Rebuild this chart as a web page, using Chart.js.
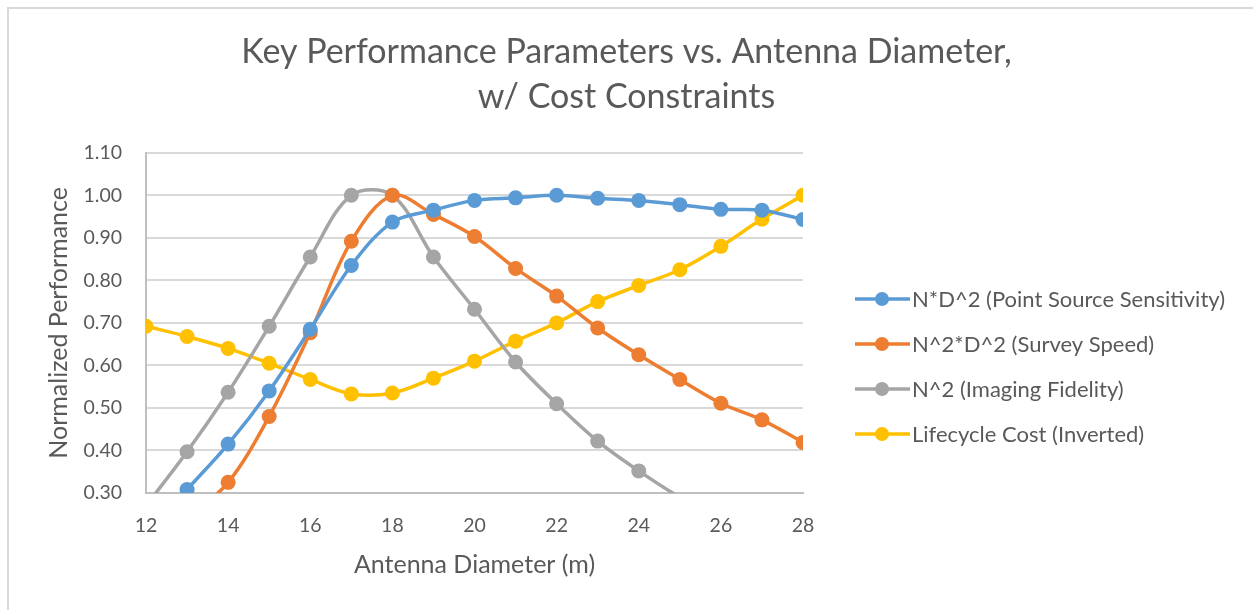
<!DOCTYPE html>
<html>
<head>
<meta charset="utf-8">
<script src="https://cdn.jsdelivr.net/npm/chart.js@4"></script>
<style>
  html, body { margin: 0; padding: 0; background: #fff; }
  #wrap { position: absolute; left: 0; top: 0; width: 1253px; height: 610px; }
</style>
</head>
<body>
<div id="wrap"><canvas id="kpp" width="1253" height="610"></canvas></div>
<script>
'use strict';

// antenna diameter (m)
const diameters = [12, 13, 14, 15, 16, 17, 18, 19, 20, 21, 22, 23, 24, 25, 26, 27, 28];

const pointSource = [0.20, 0.308, 0.415, 0.540, 0.685, 0.835, 0.937, 0.965, 0.988, 0.994, 1.000, 0.993, 0.988, 0.978, 0.967, 0.965, 0.943];
const surveySpeed = [0.17, 0.240, 0.325, 0.480, 0.677, 0.892, 1.000, 0.955, 0.903, 0.828, 0.763, 0.688, 0.625, 0.567, 0.511, 0.472, 0.419];
const imagingFid  = [0.27, 0.397, 0.537, 0.692, 0.855, 1.000, 1.000, 0.855, 0.732, 0.608, 0.510, 0.422, 0.352, 0.290, 0.240, 0.200, 0.165];
const lifecycle   = [0.692, 0.668, 0.640, 0.605, 0.567, 0.533, 0.535, 0.570, 0.610, 0.657, 0.700, 0.750, 0.788, 0.825, 0.880, 0.944, 1.000];

const seriesNames = ['N*D^2 (Point Source Sensitivity)', 'N^2*D^2 (Survey Speed)', 'N^2 (Imaging Fidelity)', 'Lifecycle Cost (Inverted)'];
const seriesColors = ['#5B9BD5', '#ED7D31', '#A5A5A5', '#FFC000'];

const yTicks = [0.3, 0.4, 0.5, 0.6, 0.7, 0.8, 0.9, 1.0, 1.1];

const FONT = 'Lato, "Open Sans", sans-serif';
const TXT = '#595959';

function pts(vals) {
  return diameters.map((d, i) => ({ x: d, y: vals[i] }));
}

const allSeries = [pointSource, surveySpeed, imagingFid, lifecycle];

// excel-ish frame + legend with line-through-marker
const extras = {
  id: 'extras',
  beforeDraw(chart) {
    const c = chart.ctx;
    c.save();
    c.fillStyle = '#fff';
    c.fillRect(0, 0, chart.width, chart.height);
    c.strokeStyle = '#d9d9d9';
    c.lineWidth = 2;
    c.beginPath();
    c.moveTo(8, chart.height);
    c.lineTo(8, 8);
    c.lineTo(chart.width, 8);
    c.stroke();
    c.restore();
  },
  afterDraw(chart) {
    const c = chart.ctx;
    c.save();
    chart.data.datasets.forEach((ds, i) => {
      const y = 299 + i * 45;
      c.strokeStyle = ds.borderColor;
      c.lineWidth = 3.5;
      c.beginPath();
      c.moveTo(855, y);
      c.lineTo(910, y);
      c.stroke();
      c.fillStyle = ds.borderColor;
      c.beginPath();
      c.arc(882, y, 7, 0, Math.PI * 2);
      c.fill();
      c.fillStyle = TXT;
      c.font = '22px ' + FONT;
      c.textBaseline = 'middle';
      c.textAlign = 'left';
      c.fillText(ds.label, 912, y + 1);
    });
    c.restore();
  }
};

new Chart(document.getElementById('kpp').getContext('2d'), {
  type: 'line',
  data: {
    datasets: allSeries.map((vals, i) => ({
      label: seriesNames[i],
      data: pts(vals),
      borderColor: seriesColors[i],
      backgroundColor: seriesColors[i],
      borderWidth: 3.5,
      pointRadius: ctx => (ctx.raw && ctx.raw.y < 0.3 ? 0 : 7.5),
      pointHoverRadius: 7.5,
      pointBorderWidth: 0,
      tension: 0.34,
      fill: false
    }))
  },
  options: {
    responsive: false,
    animation: false,
    events: [],
    layout: { padding: 0 },
    plugins: {
      legend: { display: false },
      tooltip: { enabled: false },
      title: {
        display: true,
        text: ['Key Performance Parameters vs. Antenna Diameter,', 'w/ Cost Constraints'],
        color: TXT,
        font: { family: FONT, size: 34, weight: 'normal', lineHeight: 1.32 },
        padding: { top: 30, bottom: 33 }
      }
    },
    scales: {
      x: {
        type: 'linear',
        min: 12,
        max: 28,
        grid: { display: false, drawTicks: false },
        border: { display: true, color: '#bfbfbf', width: 2 },
        ticks: {
          stepSize: 2,
          padding: 21,
          color: TXT,
          font: { family: FONT, size: 19.5 }
        },
        title: {
          display: true,
          text: 'Antenna Diameter (m)',
          color: TXT,
          font: { family: FONT, size: 25 },
          padding: { top: 0, bottom: 30 }
        },
        afterFit(scale) { scale.height = 117; }
      },
      y: {
        min: 0.3,
        max: 1.1,
        afterBuildTicks(scale) { scale.ticks = yTicks.map(v => ({ value: v })); },
        grid: { color: '#d9d9d9', lineWidth: 2, drawTicks: false },
        border: { display: true, color: '#bfbfbf', width: 2 },
        ticks: {
          padding: 24,
          color: TXT,
          font: { family: FONT, size: 19.5 },
          callback: v => Number(v).toFixed(2)
        },
        title: {
          display: true,
          text: 'Normalized Performance',
          color: TXT,
          font: { family: FONT, size: 25 },
          padding: { top: 44, bottom: 0 }
        },
        afterFit(scale) { scale.width = 146; }
      },
      // empty axis reserving the room where the legend is drawn
      legendRoom: {
        type: 'linear',
        position: 'right',
        display: true,
        grid: { display: false, drawTicks: false },
        border: { display: false },
        ticks: { display: false },
        afterFit(scale) { scale.width = 450; }
      }
    }
  },
  plugins: [extras]
});
</script>
</body>
</html>
